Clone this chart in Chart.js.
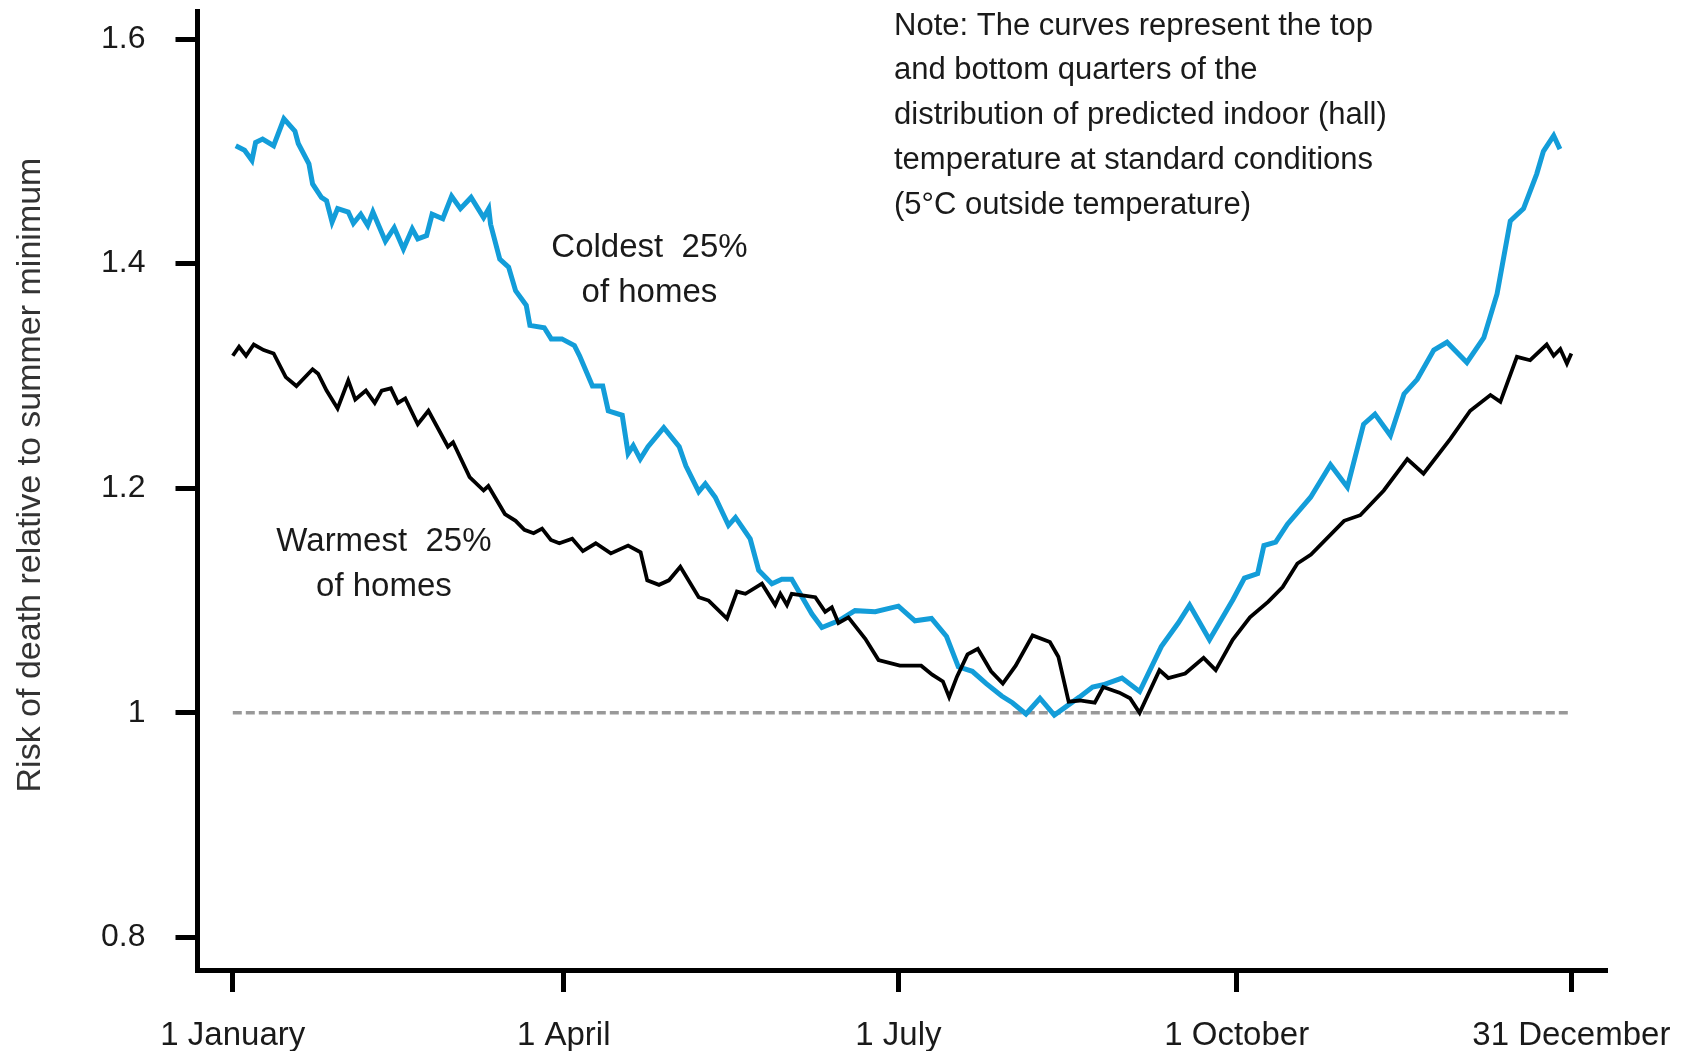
<!DOCTYPE html>
<html>
<head>
<meta charset="utf-8">
<title>Risk of death relative to summer minimum</title>
<script src="https://cdn.jsdelivr.net/npm/chart.js@4.4.1/dist/chart.umd.min.js"></script>
<style>
  html, body { margin: 0; padding: 0; background: #fff; }
</style>
</head>
<body>
<canvas id="riskChart" width="1683" height="1051"></canvas>
<script>
// --- data: day of year (0 = 1 January) and risk ratio ---
const coldDays = [0.8, 3.2, 5.2, 6.2, 8.1, 11.1, 13.9, 16.9, 17.8, 20.7,
    21.7, 24.1, 25.5, 27.0, 28.5, 31.4, 32.8, 34.8, 36.7, 38.1,
    41.5, 43.9, 46.4, 48.8, 50.3, 52.7, 54.2, 57.1, 59.5, 61.9,
    64.8, 68.2, 69.6, 70.1, 72.6, 75.0, 76.9, 79.8, 80.8, 84.7,
    86.6, 89.5, 92.9, 94.3, 97.8, 100.6, 102.1, 105.9, 107.5, 108.9,
    110.8, 112.9, 117.2, 121.4, 123.2, 126.7, 128.5, 131.2, 134.8, 136.7,
    140.7, 143.0, 146.6, 149.3, 152.0, 157.5, 160.2, 164.7, 169.2, 174.7,
    181.0, 185.5, 190.0, 194.1, 197.3, 201.1, 204.9, 209.1, 212.0, 215.7,
    219.5, 223.4, 230.2, 233.8, 236.7, 241.8, 246.6, 252.5, 257.1, 260.2,
    265.6, 272.0, 275.1, 278.7, 280.4, 283.6, 286.8, 293.1, 298.5, 303.1,
    307.5, 310.6, 314.8, 318.5, 322.1, 326.6, 330.2, 335.6, 340.2, 343.8,
    347.4, 351.0, 354.6, 356.4, 359.2, 360.9];
const coldRisk = [1.505, 1.501, 1.492, 1.508, 1.511, 1.505, 1.529, 1.518, 1.507, 1.489,
    1.471, 1.459, 1.456, 1.437, 1.449, 1.446, 1.436, 1.444, 1.434, 1.446,
    1.420, 1.432, 1.413, 1.431, 1.422, 1.425, 1.444, 1.440, 1.460, 1.449,
    1.459, 1.441, 1.449, 1.435, 1.404, 1.397, 1.376, 1.363, 1.345, 1.343,
    1.333, 1.333, 1.327, 1.318, 1.291, 1.291, 1.269, 1.265, 1.231, 1.238,
    1.226, 1.237, 1.254, 1.237, 1.220, 1.197, 1.204, 1.192, 1.167, 1.174,
    1.155, 1.127, 1.115, 1.119, 1.119, 1.088, 1.076, 1.082, 1.091, 1.090,
    1.095, 1.082, 1.084, 1.068, 1.041, 1.037, 1.026, 1.015, 1.009, 0.999,
    1.013, 0.998, 1.014, 1.023, 1.025, 1.031, 1.019, 1.059, 1.080, 1.096,
    1.065, 1.101, 1.120, 1.124, 1.149, 1.152, 1.168, 1.192, 1.221, 1.201,
    1.257, 1.266, 1.247, 1.284, 1.297, 1.323, 1.330, 1.312, 1.334, 1.373,
    1.438, 1.449, 1.480, 1.500, 1.514, 1.502];

const warmDays = [0, 1.7, 3.6, 5.7, 8.4, 11.1, 14.4, 17.3, 21.7, 23.2,
    25.5, 28.5, 31.4, 33.3, 36.2, 38.6, 40.5, 43.0, 44.9, 46.9,
    50.3, 53.2, 58.5, 59.9, 64.4, 68.2, 69.5, 74.0, 76.9, 79.3,
    81.8, 84.1, 86.5, 88.8, 92.3, 95.2, 98.7, 102.8, 107.5, 110.9,
    112.7, 115.9, 118.6, 121.7, 126.7, 129.4, 134.4, 137.1, 139.4, 143.9,
    147.5, 148.9, 150.7, 152.0, 158.4, 161.1, 162.9, 164.7, 167.4, 172.0,
    175.6, 181.4, 187.2, 190.2, 193.1, 194.8, 196.9, 199.8, 202.6, 206.2,
    209.4, 212.9, 217.5, 222.2, 224.5, 227.3, 230.3, 234.4, 236.7, 241.1,
    244.0, 246.6, 252.0, 254.4, 259.0, 264.0, 267.3, 271.9, 276.6, 281.6,
    285.5, 289.5, 293.2, 302.2, 306.6, 313.0, 319.4, 323.8, 331.1, 336.5,
    342.0, 344.7, 349.2, 352.8, 357.3, 359.2, 361.0, 362.8, 364.0];
const warmRisk = [1.318, 1.326, 1.318, 1.328, 1.323, 1.320, 1.299, 1.291, 1.306, 1.302,
    1.287, 1.271, 1.296, 1.279, 1.287, 1.276, 1.287, 1.289, 1.276, 1.280,
    1.257, 1.269, 1.237, 1.241, 1.210, 1.198, 1.202, 1.177, 1.171, 1.163,
    1.160, 1.164, 1.154, 1.151, 1.155, 1.144, 1.151, 1.142, 1.149, 1.143,
    1.118, 1.114, 1.118, 1.130, 1.103, 1.100, 1.084, 1.108, 1.106, 1.115,
    1.096, 1.106, 1.096, 1.106, 1.103, 1.090, 1.094, 1.080, 1.085, 1.066,
    1.047, 1.042, 1.042, 1.034, 1.028, 1.014, 1.032, 1.052, 1.057, 1.037,
    1.026, 1.042, 1.069, 1.063, 1.050, 1.010, 1.011, 1.009, 1.023, 1.018,
    1.013, 1.000, 1.038, 1.031, 1.035, 1.049, 1.038, 1.065, 1.085, 1.099,
    1.112, 1.133, 1.141, 1.171, 1.176, 1.198, 1.226, 1.213, 1.244, 1.269,
    1.283, 1.277, 1.317, 1.314, 1.328, 1.318, 1.324, 1.311, 1.320];

// summer-minimum reference line
const refDays = [0, 364];
const refRisk = [1, 1];

// axis ticks
const tickDays = [0, 90, 181, 273, 364];
const tickLabels = ['1 January', '1 April', '1 July', '1 October', '31 December'];
const riskTicks = [0.8, 1, 1.2, 1.4, 1.6];

// texts
const yTitle = 'Risk of death relative to summer minimum';
const coldLabel = ['Coldest  25%', 'of homes'];
const warmLabel = ['Warmest  25%', 'of homes'];
const noteLines = [
    'Note: The curves represent the top',
    'and bottom quarters of the',
    'distribution of predicted indoor (hall)',
    'temperature at standard conditions',
    '(5\u00B0C outside temperature)'
];

const FONT = '"Liberation Sans", Arial, sans-serif';
const toPoints = (xs, ys) => xs.map((d, i) => ({ x: d, y: ys[i] }));

// --- text that sits on the plot (labels, note, rotated axis title) ---
const figureText = {
    id: 'figureText',
    afterDraw(chart) {
        const { ctx, scales: { x, y } } = chart;
        ctx.save();
        ctx.fillStyle = '#1a1a1a';
        ctx.textBaseline = 'middle';

        // curve labels, placed in data units
        ctx.font = '33px ' + FONT;
        ctx.textAlign = 'center';
        ctx.fillText(coldLabel[0], x.getPixelForValue(113.3), y.getPixelForValue(1.414));
        ctx.fillText(coldLabel[1], x.getPixelForValue(113.3), y.getPixelForValue(1.374));
        ctx.fillText(warmLabel[0], x.getPixelForValue(41.1), y.getPixelForValue(1.152));
        ctx.fillText(warmLabel[1], x.getPixelForValue(41.1), y.getPixelForValue(1.112));

        // note, top right
        ctx.font = '31px ' + FONT;
        ctx.textAlign = 'left';
        noteLines.forEach((line, i) => ctx.fillText(line, 894, 26 + i * 44.8));

        // rotated y axis title
        ctx.fillStyle = '#333';
        ctx.font = '34px ' + FONT;
        ctx.textAlign = 'center';
        ctx.translate(31, 475);
        ctx.rotate(-Math.PI / 2);
        ctx.fillText(yTitle, 0, 0);
        ctx.restore();
    }
};

const ctx = document.getElementById('riskChart').getContext('2d');
new Chart(ctx, {
    type: 'line',
    data: {
        datasets: [
            {
                label: 'Warmest 25% of homes',
                data: toPoints(warmDays, warmRisk),
                borderColor: '#000',
                borderWidth: 3.8,
                pointRadius: 0,
                tension: 0
            },
            {
                label: 'Coldest 25% of homes',
                data: toPoints(coldDays, coldRisk),
                borderColor: '#139dd9',
                borderWidth: 5,
                pointRadius: 0,
                tension: 0
            },
            {
                label: 'Summer minimum',
                data: toPoints(refDays, refRisk),
                borderColor: '#999',
                borderWidth: 3.5,
                borderDash: [9, 4],
                pointRadius: 0
            }
        ]
    },
    options: {
        responsive: false,
        animation: false,
        layout: { padding: { left: 0, top: 11, right: 76, bottom: 0 } },
        plugins: {
            legend: { display: false },
            tooltip: { enabled: false }
        },
        scales: {
            x: {
                type: 'linear',
                min: -9.6,
                max: 373.7,
                afterBuildTicks: s => { s.ticks = tickDays.map(v => ({ value: v })); },
                afterFit: s => { s.height = 81; s.paddingLeft = 0; s.paddingRight = 0; },
                ticks: {
                    callback: (v, i) => tickLabels[i],
                    autoSkip: false,
                    maxRotation: 0,
                    padding: 24,
                    color: '#1a1a1a',
                    font: { family: FONT, size: 33 }
                },
                grid: {
                    drawOnChartArea: false,
                    drawTicks: true,
                    tickLength: 22,
                    tickWidth: 5,
                    tickColor: '#000'
                },
                border: { display: true, color: '#000', width: 5 }
            },
            y: {
                type: 'linear',
                min: 0.771,
                max: 1.625,
                afterBuildTicks: s => { s.ticks = riskTicks.map(v => ({ value: v })); },
                afterFit: s => { s.width = 197.5; s.paddingTop = 0; s.paddingBottom = 0; },
                ticks: {
                    callback: v => String(v),
                    padding: 30,
                    color: '#1a1a1a',
                    font: { family: FONT, size: 32 }
                },
                grid: {
                    drawOnChartArea: false,
                    drawTicks: true,
                    tickLength: 22,
                    tickWidth: 5,
                    tickColor: '#000'
                },
                border: { display: true, color: '#000', width: 5 }
            }
        }
    },
    plugins: [figureText]
});
</script>
</body>
</html>
